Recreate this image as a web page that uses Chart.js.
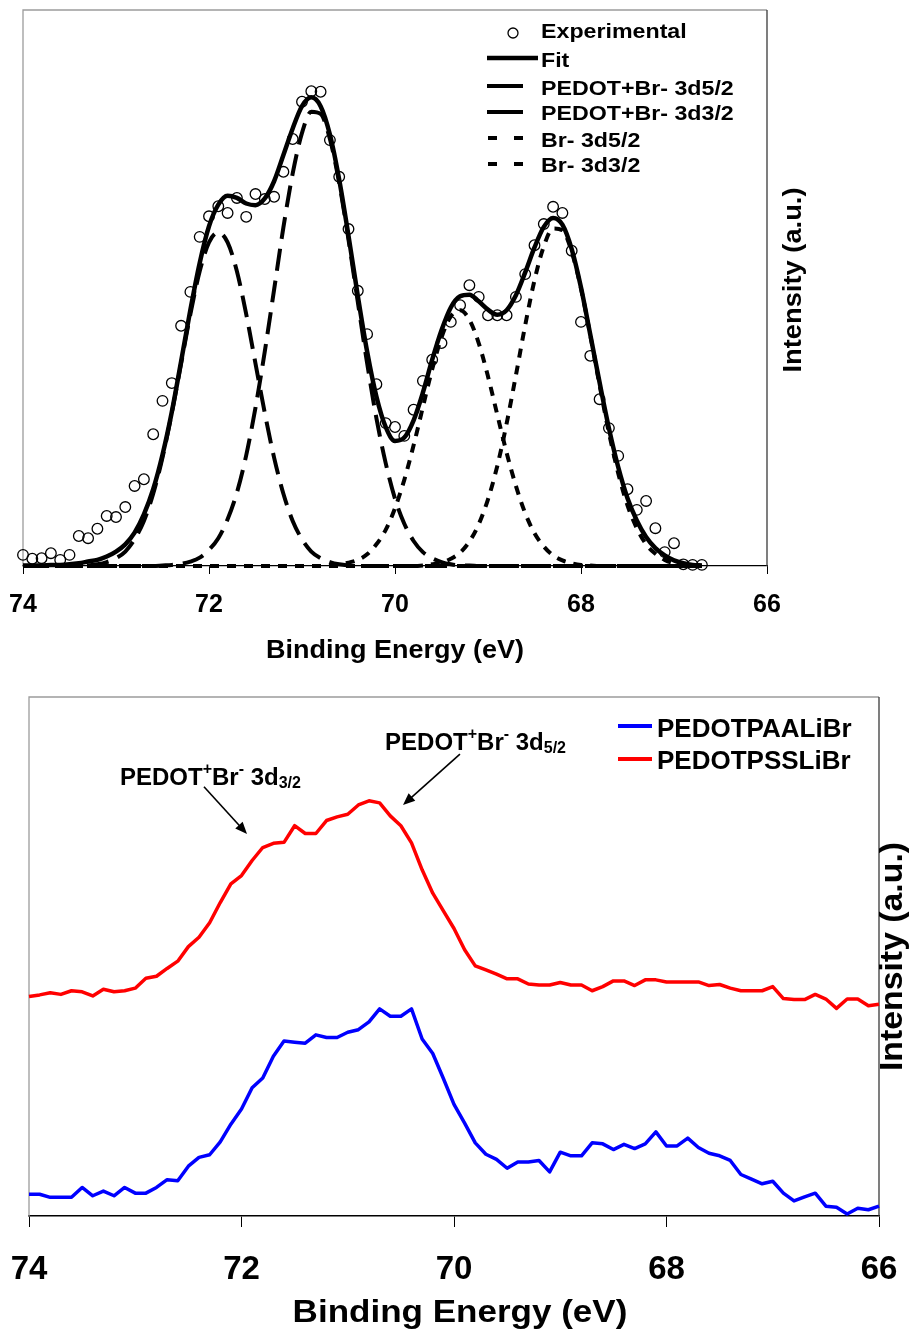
<!DOCTYPE html>
<html>
<head>
<meta charset="utf-8">
<script src="https://cdn.jsdelivr.net/npm/chart.js@4.4.1/dist/chart.umd.min.js"></script>
<style>
  html, body { margin: 0; padding: 0; background: #fff; }
  body { width: 911px; height: 1335px; position: relative; overflow: hidden; }
  #fitBox { position: absolute; left: 0; top: 0; width: 911px; height: 680px; }
  #scanBox { position: absolute; left: 0; top: 680px; width: 911px; height: 655px; }
  canvas { display: block; }
</style>
</head>
<body>
<div id="fitBox"><canvas id="fitChart" width="911" height="680"></canvas></div>
<div id="scanBox"><canvas id="scanChart" width="911" height="655"></canvas></div>
<script>
// ---------- Br 3d region: peak-fitted spectrum ----------
const bindingEnergy = [
  74.0, 73.9, 73.8, 73.7, 73.6, 73.5, 73.4, 73.3, 73.2, 73.1,
  73.0, 72.9, 72.8, 72.7, 72.6, 72.5, 72.4, 72.3, 72.2, 72.1,
  72.0, 71.9, 71.8, 71.7, 71.6, 71.5, 71.4, 71.3, 71.2, 71.1,
  71.0, 70.9, 70.8, 70.7, 70.6, 70.5, 70.4, 70.3, 70.2, 70.1,
  70.0, 69.9, 69.8, 69.7, 69.6, 69.5, 69.4, 69.3, 69.2, 69.1,
  69.0, 68.9, 68.8, 68.7, 68.6, 68.5, 68.4, 68.3, 68.2, 68.1,
  68.0, 67.9, 67.8, 67.7, 67.6, 67.5, 67.4, 67.3, 67.2, 67.1,
  67.0, 66.9, 66.8, 66.7
];
const experimental = [
  2.0, 1.3, 1.4, 2.3, 1.1, 2.0, 5.4, 5.0, 6.7, 9.0,
  8.8, 10.6, 14.4, 15.6, 23.7, 29.7, 32.9, 43.2, 49.3, 59.2,
  62.9, 64.7, 63.5, 66.2, 62.8, 66.9, 66.0, 66.4, 70.9, 76.8,
  83.5, 85.4, 85.3, 76.6, 70.0, 60.6, 49.5, 41.7, 32.7, 25.7,
  25.0, 23.4, 28.1, 33.3, 37.1, 40.1, 43.9, 46.9, 50.5, 48.4,
  45.1, 45.1, 45.1, 48.4, 52.5, 57.7, 61.5, 64.6, 63.5, 56.7,
  43.9, 37.8, 30.0, 24.8, 19.8, 13.8, 10.1, 11.7, 6.8, 2.5,
  4.1, 0.3, 0.2, 0.2
];
const fitEnvelope = [
  0.1, 0.1, 0.1, 0.2, 0.2, 0.3, 0.5, 0.8, 1.1, 1.7,
  2.6, 3.9, 6.0, 9.3, 13.8, 20.0, 27.7, 36.8, 46.1, 54.5,
  61.1, 65.0, 66.6, 66.2, 65.2, 64.9, 66.1, 69.2, 73.9, 78.7,
  82.7, 84.3, 82.7, 77.6, 69.5, 59.4, 48.6, 38.6, 30.5, 25.0,
  22.5, 23.1, 26.2, 31.2, 37.1, 42.4, 46.5, 48.5, 48.8, 47.6,
  46.1, 45.2, 46.0, 48.7, 52.8, 57.3, 61.0, 62.6, 61.4, 57.0,
  50.1, 41.6, 33.0, 24.8, 17.8, 12.2, 8.2, 5.2, 3.2, 1.9,
  1.0, 0.5, 0.2, 0.1
];
const pedotBr3d52 = [
  0, 0, 0, 0, 0, 0, 0, 0, 0, 0,
  0, 0, 0, 0, 0, 0.1, 0.2, 0.4, 0.8, 1.5,
  2.9, 5.0, 8.4, 13.2, 19.9, 28.5, 38.6, 49.7, 60.9, 70.6,
  77.9, 81.7, 81.3, 76.8, 68.9, 58.7, 47.5, 36.5, 26.6, 18.5,
  12.1, 7.6, 4.5, 2.5, 1.4, 0.7, 0.3, 0.1, 0.1, 0,
  0, 0, 0, 0, 0, 0, 0, 0, 0, 0,
  0, 0, 0, 0, 0, 0, 0, 0, 0, 0,
  0, 0, 0, 0
];
const pedotBr3d32 = [
  0, 0, 0, 0, 0, 0, 0, 0.1, 0.3, 0.7,
  1.4, 2.6, 4.8, 8.1, 13.0, 19.5, 27.5, 36.4, 45.3, 53.0,
  58.2, 60.0, 58.2, 53.0, 45.3, 36.4, 27.5, 19.5, 13.0, 8.1,
  4.8, 2.6, 1.4, 0.7, 0.3, 0.1, 0, 0, 0, 0,
  0, 0, 0, 0, 0, 0, 0, 0, 0, 0,
  0, 0, 0, 0, 0, 0, 0, 0, 0, 0,
  0, 0, 0, 0, 0, 0, 0, 0, 0, 0,
  0, 0, 0, 0
];
const bromide3d52 = [
  0, 0, 0, 0, 0, 0, 0, 0, 0, 0,
  0, 0, 0, 0, 0, 0, 0, 0, 0, 0,
  0, 0, 0, 0, 0, 0, 0, 0, 0, 0,
  0, 0, 0, 0, 0, 0, 0, 0, 0, 0,
  0, 0, 0, 0.1, 0.3, 0.6, 1.3, 2.4, 4.4, 7.5,
  12.0, 18.0, 25.6, 34.3, 43.3, 51.4, 57.5, 60.7, 60.4, 56.5,
  49.9, 41.5, 32.5, 24.0, 16.7, 10.9, 6.8, 3.9, 2.2, 1.1,
  0.5, 0.3, 0.1, 0
];
const bromide3d32 = [
  0, 0, 0, 0, 0, 0, 0, 0, 0, 0,
  0, 0, 0, 0, 0, 0, 0, 0, 0, 0,
  0, 0, 0, 0, 0, 0, 0, 0, 0, 0,
  0, 0, 0, 0.1, 0.3, 0.6, 1.1, 2.1, 3.9, 6.5,
  10.4, 15.5, 21.7, 28.6, 35.4, 41.1, 44.9, 46.0, 44.3, 40.1,
  34.1, 27.2, 20.4, 14.4, 9.5, 5.9, 3.5, 1.9, 1.0, 0.5,
  0.2, 0.1, 0, 0, 0, 0, 0, 0, 0, 0,
  0, 0, 0, 0
];

// ---------- Br 3d region: two polymer films ----------
const scanEnergy = [
  74.0, 73.9, 73.8, 73.7, 73.6, 73.5, 73.4, 73.3, 73.2, 73.1,
  73.0, 72.9, 72.8, 72.7, 72.6, 72.5, 72.4, 72.3, 72.2, 72.1,
  72.0, 71.9, 71.8, 71.7, 71.6, 71.5, 71.4, 71.3, 71.2, 71.1,
  71.0, 70.9, 70.8, 70.7, 70.6, 70.5, 70.4, 70.3, 70.2, 70.1,
  70.0, 69.9, 69.8, 69.7, 69.6, 69.5, 69.4, 69.3, 69.2, 69.1,
  69.0, 68.9, 68.8, 68.7, 68.6, 68.5, 68.4, 68.3, 68.2, 68.1,
  68.0, 67.9, 67.8, 67.7, 67.6, 67.5, 67.4, 67.3, 67.2, 67.1,
  67.0, 66.9, 66.8, 66.7, 66.6, 66.5, 66.4, 66.3, 66.2, 66.1,
  66.0
];
const pedotPaaLiBr = [
  4.2, 4.2, 3.6, 3.6, 3.6, 5.5, 3.9, 4.8, 3.9, 5.5,
  4.4, 4.4, 5.5, 7.0, 6.8, 9.6, 11.3, 11.8, 14.3, 17.7,
  20.6, 24.7, 26.6, 30.8, 33.7, 33.5, 33.3, 34.9, 34.4, 34.4,
  35.4, 35.9, 37.4, 39.9, 38.5, 38.5, 39.9, 34.1, 31.3, 26.5,
  21.5, 17.9, 14.1, 11.9, 10.9, 9.2, 10.4, 10.4, 10.7, 8.5,
  12.3, 11.6, 11.6, 14.1, 13.9, 12.8, 13.8, 13.0, 13.9, 16.2,
  13.5, 13.5, 15.0, 13.2, 12.1, 11.6, 10.7, 8.0, 7.1, 6.2,
  6.7, 4.4, 2.9, 3.7, 4.4, 1.9, 1.7, 0.4, 1.5, 1.2,
  1.9
];
const pedotPssLiBr = [
  42.3, 42.6, 43.0, 42.7, 43.4, 43.2, 42.4, 43.7, 43.2, 43.4,
  43.9, 45.8, 46.2, 47.7, 49.1, 51.9, 53.7, 56.5, 60.4, 64.0,
  65.6, 68.5, 71.0, 71.8, 72.0, 75.2, 73.7, 73.7, 76.2, 76.9,
  77.4, 79.2, 80.0, 79.6, 77.1, 75.2, 71.9, 66.7, 62.2, 58.8,
  55.4, 51.3, 48.2, 47.4, 46.6, 45.7, 45.7, 44.7, 44.5, 44.5,
  45.0, 44.5, 44.5, 43.4, 44.2, 45.3, 45.3, 44.4, 45.5, 45.5,
  45.1, 45.1, 45.1, 45.1, 44.4, 44.6, 43.9, 43.4, 43.4, 43.4,
  44.2, 41.9, 41.7, 41.7, 42.7, 41.8, 40.0, 41.8, 41.8, 40.5,
  40.8
];
const energyTicks = [66, 68, 70, 72, 74];

const FONT = "'Liberation Sans', Arial, Helvetica, sans-serif";
const pairs = (xs, ys) => xs.map((x, i) => ({ x: x, y: ys[i] }));

function drawText(ctx, text, x, y, size, opts) {
  const o = Object.assign({ align: 'left', stretch: 1, rotate: 0 }, opts || {});
  ctx.save();
  ctx.font = 'bold ' + size + 'px ' + FONT;
  ctx.fillStyle = '#000';
  ctx.textBaseline = 'alphabetic';
  ctx.textAlign = o.align;
  ctx.translate(x, y);
  if (o.rotate) ctx.rotate(o.rotate);
  ctx.scale(o.stretch, 1);
  ctx.fillText(text, 0, 0);
  ctx.restore();
}

// text runs with super/subscripts
function drawRuns(ctx, runs, x, y) {
  ctx.save();
  ctx.fillStyle = '#000';
  ctx.textBaseline = 'alphabetic';
  ctx.textAlign = 'left';
  let cx = x;
  runs.forEach(r => {
    ctx.font = 'bold ' + r.size + 'px ' + FONT;
    ctx.fillText(r.text, cx, y + (r.dy || 0));
    cx += ctx.measureText(r.text).width;
  });
  ctx.restore();
}

function drawArrow(ctx, x1, y1, x2, y2) {
  const a = Math.atan2(y2 - y1, x2 - x1);
  const L = 12, W = 5;
  const c = Math.cos(a), s = Math.sin(a);
  ctx.save();
  ctx.strokeStyle = '#000';
  ctx.fillStyle = '#000';
  ctx.lineWidth = 1.6;
  ctx.beginPath();
  ctx.moveTo(x1, y1);
  ctx.lineTo(x2 - L * 0.7 * c, y2 - L * 0.7 * s);
  ctx.stroke();
  ctx.beginPath();
  ctx.moveTo(x2, y2);
  ctx.lineTo(x2 - L * c + W * s, y2 - L * s - W * c);
  ctx.lineTo(x2 - L * c - W * s, y2 - L * s + W * c);
  ctx.closePath();
  ctx.fill();
  ctx.restore();
}

// plot frame: light grey left/top, dark right edge
function framePlugin(id) {
  return {
    id: id,
    beforeDatasetsDraw(chart) {
      const { ctx, chartArea: a } = chart;
      ctx.save();
      ctx.lineWidth = 1.3;
      ctx.strokeStyle = '#9c9c9c';
      ctx.beginPath();
      ctx.moveTo(a.left, a.bottom);
      ctx.lineTo(a.left, a.top);
      ctx.lineTo(a.right, a.top);
      ctx.stroke();
      ctx.strokeStyle = '#3a3a3a';
      ctx.beginPath();
      ctx.moveTo(a.right, a.top);
      ctx.lineTo(a.right, a.bottom);
      ctx.stroke();
      ctx.restore();
    }
  };
}

function energyAxis(height, fontSize, pad, tickLen, borderW) {
  return {
    type: 'linear',
    min: 66, max: 74,
    reverse: true,
    afterFit(scale) { scale.height = height; },
    afterBuildTicks(scale) { scale.ticks = energyTicks.map(v => ({ value: v })); },
    ticks: {
      color: '#000',
      font: { family: FONT, size: fontSize, weight: 'bold' },
      padding: pad,
      maxRotation: 0,
      autoSkip: false
    },
    grid: { drawOnChartArea: false, drawTicks: true, tickLength: tickLen, color: '#000', tickColor: '#000', lineWidth: 1 },
    border: { display: true, color: '#000', width: borderW }
  };
}

// ---------- chart 1 ----------
const fitLegendPlugin = {
  id: 'fitLegend',
  afterDraw(chart) {
    const ctx = chart.ctx;
    const sets = chart.data.datasets;
    const baselines = [38, 67, 95, 120, 147, 172];
    const marks = [33, 58, 86, 112, 138, 164];
    const textX = 541;
    sets.forEach((ds, i) => {
      const my = marks[i];
      ctx.save();
      ctx.strokeStyle = '#000';
      if (ds.showLine === false) {
        ctx.lineWidth = 1.3;
        ctx.beginPath();
        ctx.arc(513, my, 5, 0, Math.PI * 2);
        ctx.stroke();
      } else if (!ds.borderDash) {
        ctx.lineWidth = ds.borderWidth;
        ctx.beginPath();
        ctx.moveTo(487, my);
        ctx.lineTo(538, my);
        ctx.stroke();
      } else if (ds.borderDash[0] > 12) {
        ctx.lineWidth = ds.borderWidth;
        ctx.beginPath();
        ctx.moveTo(487, my);
        ctx.lineTo(523, my);
        ctx.stroke();
      } else {
        ctx.lineWidth = ds.borderWidth;
        ctx.beginPath();
        ctx.moveTo(488, my); ctx.lineTo(497, my);
        ctx.moveTo(514, my); ctx.lineTo(523, my);
        ctx.stroke();
      }
      ctx.restore();
      drawText(ctx, ds.label, textX, baselines[i], 20, { stretch: 1.16 });
    });
  }
};

const fitTitlesPlugin = {
  id: 'fitTitles',
  afterDraw(chart) {
    const ctx = chart.ctx;
    const a = chart.chartArea;
    drawText(ctx, 'Binding Energy (eV)', (a.left + a.right) / 2, 658, 25, { align: 'center', stretch: 1.08 });
    drawText(ctx, 'Intensity (a.u.)', 801, (a.top + a.bottom) / 2 - 8, 26, { align: 'center', stretch: 1.05, rotate: -Math.PI / 2 });
  }
};

const componentStyle = { borderColor: '#000', borderWidth: 4, pointRadius: 0, cubicInterpolationMode: 'monotone', clip: 6 };

new Chart(document.getElementById('fitChart'), {
  type: 'line',
  data: {
    datasets: [
      {
        label: 'Experimental',
        data: pairs(bindingEnergy, experimental),
        showLine: false,
        pointStyle: 'circle',
        pointRadius: 5.3,
        pointBorderWidth: 1.3,
        pointBorderColor: '#000',
        pointBackgroundColor: 'rgba(255,255,255,0)',
        borderColor: '#000',
        clip: false
      },
      Object.assign({ label: 'Fit', data: pairs(bindingEnergy, fitEnvelope) }, componentStyle, { borderWidth: 4.5 }),
      Object.assign({ label: 'PEDOT+Br- 3d5/2', data: pairs(bindingEnergy, pedotBr3d52), borderDash: [22, 10] }, componentStyle),
      Object.assign({ label: 'PEDOT+Br- 3d3/2', data: pairs(bindingEnergy, pedotBr3d32), borderDash: [22, 10] }, componentStyle),
      Object.assign({ label: 'Br- 3d5/2', data: pairs(bindingEnergy, bromide3d52), borderDash: [9, 8] }, componentStyle),
      Object.assign({ label: 'Br- 3d3/2', data: pairs(bindingEnergy, bromide3d32), borderDash: [9, 8] }, componentStyle)
    ]
  },
  options: {
    responsive: false,
    animation: false,
    devicePixelRatio: 1,
    events: [],
    layout: { padding: { left: 23, top: 10, right: 144, bottom: 0 } },
    scales: {
      x: energyAxis(114, 25, 16, 8, 1.2),
      y: { display: false, min: 0, max: 100 }
    },
    plugins: { legend: { display: false }, tooltip: { enabled: false } }
  },
  plugins: [framePlugin('fitFrame'), fitLegendPlugin, fitTitlesPlugin]
});

// ---------- chart 2 ----------
const peakLabels = [
  {
    runs: [
      { text: 'PEDOT', size: 24 }, { text: '+', size: 16, dy: -11 },
      { text: 'Br', size: 24 }, { text: '-', size: 16, dy: -11 },
      { text: ' 3d', size: 24 }, { text: '3/2', size: 16, dy: 3 }
    ],
    at: [73.144, 83.0], tail: [72.353, 82.7], head: [71.948, 73.6]
  },
  {
    runs: [
      { text: 'PEDOT', size: 24 }, { text: '+', size: 16, dy: -11 },
      { text: 'Br', size: 24 }, { text: '-', size: 16, dy: -11 },
      { text: ' 3d', size: 24 }, { text: '5/2', size: 16, dy: 3 }
    ],
    at: [70.649, 89.8], tail: [69.944, 89.0], head: [70.480, 79.2]
  }
];

const scanDecorPlugin = {
  id: 'scanDecor',
  afterDraw(chart) {
    const ctx = chart.ctx;
    const a = chart.chartArea;
    const xs = chart.scales.x, ys = chart.scales.y;
    peakLabels.forEach(p => {
      drawRuns(ctx, p.runs, xs.getPixelForValue(p.at[0]), ys.getPixelForValue(p.at[1]));
      drawArrow(ctx,
        xs.getPixelForValue(p.tail[0]), ys.getPixelForValue(p.tail[1]),
        xs.getPixelForValue(p.head[0]), ys.getPixelForValue(p.head[1]));
    });
    // legend
    const rows = [46, 79], base = [57, 89];
    chart.data.datasets.forEach((ds, i) => {
      ctx.save();
      ctx.strokeStyle = ds.borderColor;
      ctx.lineWidth = 4;
      ctx.beginPath();
      ctx.moveTo(618, rows[i]);
      ctx.lineTo(652, rows[i]);
      ctx.stroke();
      ctx.restore();
      drawText(ctx, ds.label, 657, base[i], 26);
    });
    drawText(ctx, 'Binding Energy (eV)', 460, 642, 31, { align: 'center', stretch: 1.13 });
    drawText(ctx, 'Intensity (a.u.)', 902, (a.top + a.bottom) / 2, 31, { align: 'center', stretch: 1.09, rotate: -Math.PI / 2 });
  }
};

new Chart(document.getElementById('scanChart'), {
  type: 'line',
  data: {
    datasets: [
      {
        label: 'PEDOTPAALiBr',
        data: pairs(scanEnergy, pedotPaaLiBr),
        borderColor: '#0000ff', borderWidth: 3.5,
        pointRadius: 0, tension: 0, borderJoinStyle: 'round', clip: 4
      },
      {
        label: 'PEDOTPSSLiBr',
        data: pairs(scanEnergy, pedotPssLiBr),
        borderColor: '#ff0000', borderWidth: 3.5,
        pointRadius: 0, tension: 0, borderJoinStyle: 'round', clip: 4
      }
    ]
  },
  options: {
    responsive: false,
    animation: false,
    devicePixelRatio: 1,
    events: [],
    layout: { padding: { left: 29, top: 17, right: 32, bottom: 0 } },
    scales: {
      x: energyAxis(119, 33, 23, 11, 1.6),
      y: { display: false, min: 0, max: 100 }
    },
    plugins: { legend: { display: false }, tooltip: { enabled: false } }
  },
  plugins: [framePlugin('scanFrame'), scanDecorPlugin]
});
</script>
</body>
</html>
